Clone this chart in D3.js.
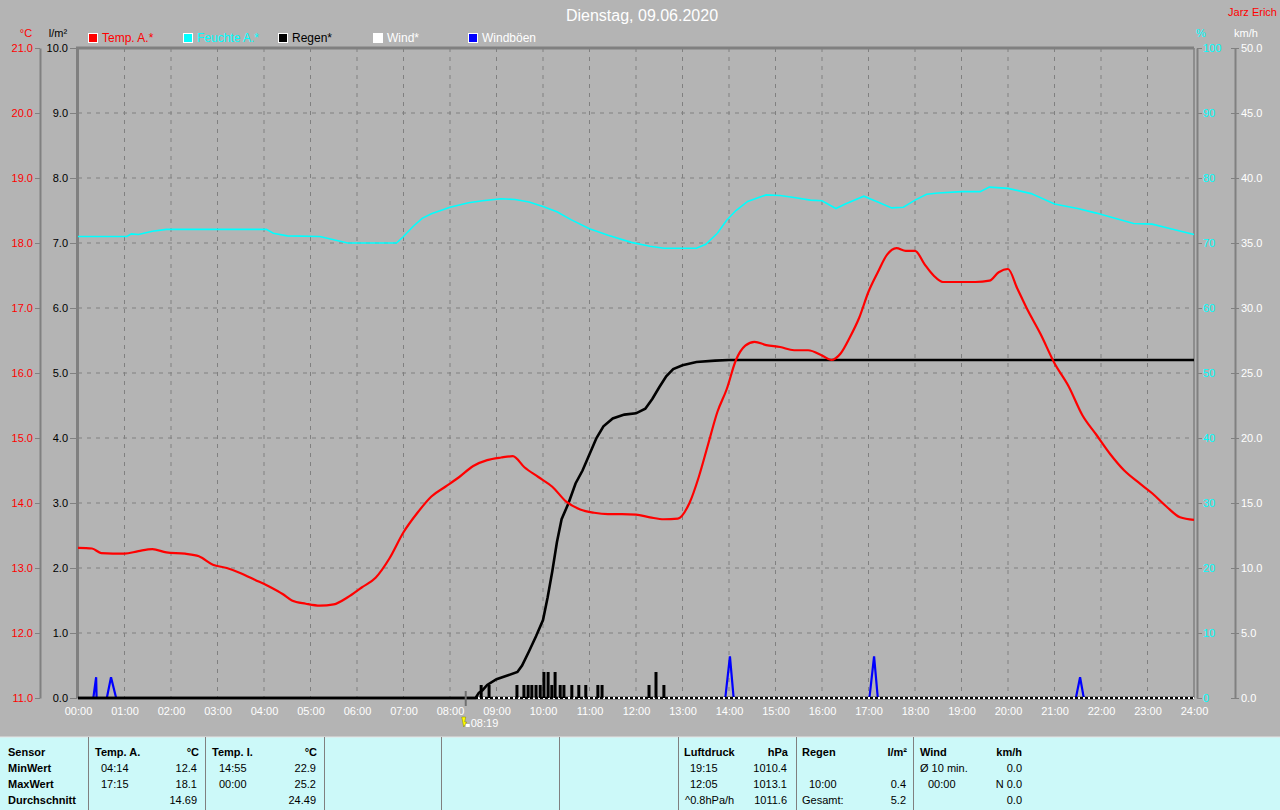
<!DOCTYPE html>
<html><head><meta charset="utf-8">
<script src="https://cdn.jsdelivr.net/npm/d3@7"></script>
<style>
html,body{margin:0;padding:0;background:#b4b4b4;}
svg{display:block;font-family:"Liberation Sans",Arial,sans-serif;}
</style></head>
<body><svg id="chart" width="1280" height="810"></svg>
<script>
// ---------- DATA ----------
const title = "Dienstag, 09.06.2020";
const author = "Jarz Erich";
const hourLabels = ["00:00","01:00","02:00","03:00","04:00","05:00","06:00","07:00","08:00","09:00","10:00","11:00","12:00","13:00","14:00","15:00","16:00","17:00","18:00","19:00","20:00","21:00","22:00","23:00","24:00"];
const tempTicks = [11,12,13,14,15,16,17,18,19,20,21];
const rainTicks = [0,1,2,3,4,5,6,7,8,9,10];
const humTicks = [0,10,20,30,40,50,60,70,80,90,100];
const windTicks = [0,5,10,15,20,25,30,35,40,45,50];

const legendNames = ["Temp. A.*","Feuchte A.*","Regen*","Wind*","Windböen"];

const tempTimes = [0,0.3,0.5,1.0,1.3,1.6,1.9,2.3,2.6,2.9,3.2,3.5,3.8,4.1,4.4,4.6,4.9,5.2,5.5,5.8,6.1,6.4,6.7,7.0,7.3,7.6,7.9,8.2,8.5,8.8,9.1,9.35,9.6,9.9,10.2,10.5,10.8,11.1,11.4,11.7,12.0,12.3,12.6,12.9,13.15,13.35,13.55,13.75,13.95,14.15,14.35,14.55,14.8,15.1,15.4,15.7,16.0,16.2,16.4,16.6,16.8,17.0,17.2,17.4,17.6,17.8,18.0,18.2,18.4,18.6,18.9,19.3,19.6,19.8,20.0,20.2,20.4,20.7,21.0,21.3,21.6,21.9,22.2,22.5,22.8,23.1,23.4,23.7,24.0];
const tempValues = [13.31,13.3,13.23,13.22,13.26,13.29,13.24,13.22,13.18,13.05,13.0,12.92,12.82,12.72,12.6,12.5,12.45,12.42,12.44,12.55,12.7,12.85,13.15,13.55,13.85,14.1,14.25,14.4,14.57,14.66,14.7,14.72,14.55,14.4,14.25,14.02,13.9,13.85,13.83,13.83,13.82,13.78,13.75,13.76,14.0,14.4,14.9,15.4,15.75,16.2,16.42,16.48,16.43,16.4,16.35,16.35,16.27,16.2,16.3,16.55,16.85,17.25,17.55,17.82,17.92,17.88,17.88,17.68,17.5,17.4,17.4,17.4,17.42,17.55,17.6,17.3,17.0,16.6,16.15,15.8,15.35,15.05,14.75,14.5,14.32,14.15,13.95,13.78,13.74];

const humTimes = [0,1.05,1.15,1.3,1.6,1.9,4.05,4.2,4.5,5.2,5.5,5.8,6.85,7.0,7.2,7.4,7.6,8.0,8.4,8.7,9.1,9.4,9.7,10.0,10.3,10.6,11.0,11.4,11.9,12.3,12.6,13.3,13.5,13.75,13.95,14.15,14.4,14.8,15.1,15.4,15.75,16.0,16.3,16.5,16.9,17.2,17.5,17.75,18.0,18.25,18.5,19.0,19.4,19.6,20.0,20.5,21.0,21.5,21.9,22.3,22.7,23.1,23.5,24.0];
const humValues = [71,71,71.4,71.3,71.8,72.1,72.1,71.5,71.1,71.0,70.5,70.0,70.0,71.0,72.5,73.8,74.5,75.5,76.2,76.5,76.8,76.7,76.3,75.6,74.8,73.6,72.2,71.2,70.1,69.5,69.2,69.2,69.8,71.5,73.5,75.0,76.4,77.4,77.3,77.0,76.6,76.5,75.3,76.0,77.2,76.3,75.4,75.5,76.6,77.5,77.7,77.9,77.9,78.6,78.4,77.6,76.0,75.3,74.6,73.8,73.0,72.9,72.2,71.3];

const rainTimes = [0,8.55,8.62,8.7,8.8,9.0,9.25,9.45,9.55,9.7,9.85,10.0,10.1,10.2,10.3,10.4,10.55,10.7,10.85,11.0,11.15,11.3,11.5,11.75,12.0,12.2,12.35,12.5,12.65,12.8,13.0,13.3,13.7,14.0,24];
const rainValues = [0,0,0.08,0.12,0.2,0.29,0.35,0.4,0.5,0.72,0.95,1.2,1.55,1.95,2.4,2.75,3.0,3.3,3.5,3.75,4.0,4.18,4.3,4.36,4.38,4.45,4.6,4.78,4.95,5.06,5.12,5.17,5.19,5.2,5.2];

const rainBarTimes = [8.67,8.84,9.44,9.59,9.68,9.76,9.85,9.94,10.02,10.11,10.19,10.26,10.37,10.45,10.62,10.77,10.92,11.18,11.27,12.28,12.43,12.60];
const rainBarValues = [0.2,0.2,0.2,0.2,0.2,0.2,0.2,0.2,0.4,0.4,0.2,0.4,0.2,0.2,0.2,0.2,0.2,0.2,0.2,0.2,0.4,0.2];

const windTimes = [0,24];
const windValues = [0,0];

const gustTimes = [0,0.33,0.39,0.40,0.62,0.71,0.82,13.92,14.02,14.1,17.02,17.12,17.2,21.46,21.55,21.63,24];
const gustValues = [0,0,1.6,0,0,1.6,0,0,3.2,0,0,3.2,0,0,1.6,0,0];

const markerTime = 8 + 19/60;
const markerLabel = "08:19";

// table
const tableRows = [
  {x:8, anchor:"start", bold:true, lines:["Sensor","MinWert","MaxWert","Durchschnitt"]},
  {x:95, anchor:"start", bold:[true,false,false,false], lines:["Temp. A.","04:14","17:15",""], dx:[0,6,6,0]},
  {x:199, anchor:"end", bold:[true,false,false,false], lines:["°C","12.4","18.1","14.69"], dx:[0,-2,-2,-2]},
  {x:212, anchor:"start", bold:[true,false,false,false], lines:["Temp. I.","14:55","00:00",""], dx:[0,7,7,0]},
  {x:317, anchor:"end", bold:[true,false,false,false], lines:["°C","22.9","25.2","24.49"], dx:[0,-1,-1,-1]},
  {x:684, anchor:"start", bold:[true,false,false,false], lines:["Luftdruck","19:15","12:05","^0.8hPa/h"], dx:[0,6,6,1]},
  {x:788, anchor:"end", bold:[true,false,false,false], lines:["hPa","1010.4","1013.1","1011.6"], dx:[0,-1,-1,-1]},
  {x:802, anchor:"start", bold:[true,false,false,false], lines:["Regen","","10:00","Gesamt:"], dx:[0,0,7,0]},
  {x:907, anchor:"end", bold:[true,false,false,false], lines:["l/m²","","0.4","5.2"], dx:[0,0,-1,-1]},
  {x:920, anchor:"start", bold:[true,false,false,false], lines:["Wind","Ø 10 min.","00:00",""], dx:[0,0,8,0]},
  {x:1022, anchor:"end", bold:[true,false,false,false], lines:["km/h","0.0","N 0.0","0.0"], dx:[0,0,0,0]}
];
const tableSeparators = [88,205,324,441,559,678,796,913];

// ---------- DRAW ----------
const svg = d3.select("#chart");
const L = 78, R = 1194, T = 48, B = 698;
const grid = "#808080";
const x = d3.scaleLinear().domain([0,24]).range([L,R]);
const yRain = d3.scaleLinear().domain([0,10]).range([B,T]);
const yTemp = d3.scaleLinear().domain([11,21]).range([B,T]);
const yHum = d3.scaleLinear().domain([0,100]).range([B,T]);
const yWind = d3.scaleLinear().domain([0,50]).range([B,T]);

svg.append("rect").attr("width",1280).attr("height",810).attr("fill","#b4b4b4");

// title
svg.append("text").attr("x",642).attr("y",21).attr("text-anchor","middle")
  .attr("fill","#fff").attr("font-size",16).text(title);
svg.append("text").attr("x",1277).attr("y",16).attr("text-anchor","end")
  .attr("fill","#ff0000").attr("font-size",11).text(author);

// unit labels
const units = [["°C",26,"#ff0000","middle"],["l/m²",58,"#000","middle"],["%",1201,"#00ffff","middle"],["km/h",1246,"#fff","middle"]];
units.forEach(u=>svg.append("text").attr("x",u[1]).attr("y",37).attr("text-anchor",u[3]).attr("fill",u[2]).attr("font-size",11).text(u[0]));

// legend
const legendColors = ["#ff0000","#00ffff","#000000","#ffffff","#0000ff"];
const legendText = ["#ff0000","#00ffff","#000000","#ffffff","#ffffff"];
legendNames.forEach((n,i)=>{
  const lx = 88 + i*95;
  svg.append("rect").attr("x",lx+0.5).attr("y",33.5).attr("width",9).attr("height",9)
    .attr("fill",legendColors[i]).attr("stroke","#fff").attr("stroke-width",1);
  svg.append("text").attr("x",lx+14).attr("y",42).attr("fill",legendText[i]).attr("font-size",12).text(n);
});

// grid
const gg = svg.append("g");
d3.range(1,24).forEach(h=>gg.append("line").attr("x1",x(h)).attr("x2",x(h)).attr("y1",T).attr("y2",B)
  .attr("stroke",grid).attr("stroke-dasharray","4,5"));
d3.range(1,10).forEach(v=>gg.append("line").attr("x1",L).attr("x2",R).attr("y1",yRain(v)).attr("y2",yRain(v))
  .attr("stroke",grid).attr("stroke-dasharray","4,5"));

// axes
function styleAxis(g, color){
  g.selectAll(".domain").attr("stroke",grid).attr("stroke-width",2);
  g.selectAll(".tick line").attr("stroke",grid).attr("stroke-width",1);
  g.selectAll(".tick text").attr("fill",color).attr("font-size",11).attr("font-family","Liberation Sans, Arial, sans-serif");
}
const aTemp = svg.append("g").attr("transform","translate(40,0)")
  .call(d3.axisLeft(yTemp).tickValues(tempTicks).tickFormat(d3.format(".1f")).tickSize(5).tickSizeOuter(0).tickPadding(2));
styleAxis(aTemp,"#ff0000");
const aRain = svg.append("g").attr("transform","translate(77,0)")
  .call(d3.axisLeft(yRain).tickValues(rainTicks).tickFormat(d3.format(".1f")).tickSize(7).tickSizeOuter(0).tickPadding(2));
styleAxis(aRain,"#000000");
aRain.select(".domain").attr("stroke-width",3);
const aHum = svg.append("g").attr("transform","translate(1197,0)")
  .call(d3.axisRight(yHum).tickValues(humTicks).tickFormat(d3.format("d")).tickSize(5).tickSizeOuter(0).tickPadding(1));
styleAxis(aHum,"#00ffff");
const aWind = svg.append("g").attr("transform","translate(1235,0)")
  .call(d3.axisRight(yWind).tickValues(windTicks).tickFormat(d3.format(".1f")).tickSize(4).tickSizeOuter(0).tickPadding(2));
styleAxis(aWind,"#ffffff");
aWind.selectAll(".tick line").attr("x1",-4);
// plot frame
svg.append("line").attr("x1",L-2).attr("x2",R).attr("y1",T).attr("y2",T).attr("stroke",grid).attr("stroke-width",3);
svg.append("line").attr("x1",1194).attr("x2",1194).attr("y1",T).attr("y2",B).attr("stroke",grid).attr("stroke-width",1.5);

// x axis labels
const aX = svg.append("g").attr("transform",`translate(0,${B})`)
  .call(d3.axisBottom(x).tickValues(d3.range(0,25)).tickFormat(d=>hourLabels[d]).tickSize(0).tickPadding(9));
aX.select(".domain").remove();
aX.selectAll(".tick text").attr("fill","#fff").attr("font-size",11).attr("font-family","Liberation Sans, Arial, sans-serif");

const line = (ys)=>d3.line().x(d=>x(d[0])).y(d=>ys(d[1]));

// gusts (drawn below the baseline so only the spikes show)
svg.append("path").datum(d3.zip(gustTimes,gustValues)).attr("d",line(yWind))
  .attr("fill","none").attr("stroke","#0000ff").attr("stroke-width",2.2).attr("stroke-linejoin","miter");

// baseline (rain interval line) and wind (white dashed)
svg.append("line").attr("x1",L).attr("x2",R).attr("y1",B).attr("y2",B).attr("stroke","#000").attr("stroke-width",2.6);
svg.append("path").datum(d3.zip(windTimes,windValues)).attr("d",line(yWind))
  .attr("fill","none").attr("stroke","#fff").attr("stroke-width",2).attr("stroke-dasharray","2,3");

// rain bars
svg.append("g").selectAll("rect").data(d3.zip(rainBarTimes,rainBarValues)).join("rect")
  .attr("x",d=>x(d[0])-1.5).attr("width",3)
  .attr("y",d=>yRain(d[1])).attr("height",d=>B-yRain(d[1])).attr("fill","#000");

// humidity
svg.append("path").datum(d3.zip(humTimes,humValues)).attr("d",line(yHum))
  .attr("fill","none").attr("stroke","#00ffff").attr("stroke-width",1.6);

// rain cumulative
svg.append("path").datum(d3.zip(rainTimes,rainValues)).attr("d",line(yRain))
  .attr("fill","none").attr("stroke","#000").attr("stroke-width",2.6);

// temperature
svg.append("path").datum(d3.zip(tempTimes,tempValues)).attr("d",d3.line().x(d=>x(d[0])).y(d=>yTemp(d[1])).curve(d3.curveMonotoneX))
  .attr("fill","none").attr("stroke","#ff0000").attr("stroke-width",2.2);

// 08:19 marker
const mx = x(markerTime);
svg.append("line").attr("x1",mx+1).attr("x2",mx+1).attr("y1",691).attr("y2",706).attr("stroke","#707070").attr("stroke-width",2);
svg.append("path").attr("d",`M${mx-3},717 L${mx+1},717 L${mx},722 L${mx+2},722 L${mx-1},727 Z`).attr("fill","#ffff00").attr("stroke","#808000").attr("stroke-width",0.5);
svg.append("rect").attr("x",mx+1).attr("y",724).attr("width",4).attr("height",3).attr("fill","#fff");
svg.append("text").attr("x",mx+6).attr("y",727).attr("fill","#fff").attr("font-size",11).text(markerLabel);

// table
svg.append("rect").attr("x",0).attr("y",737).attr("width",1280).attr("height",73).attr("fill","#ccf9f9");
svg.append("line").attr("x1",0).attr("x2",1280).attr("y1",737).attr("y2",737).attr("stroke","#e6e6e6").attr("stroke-width",1);
tableSeparators.forEach(sx=>svg.append("line").attr("x1",sx+0.5).attr("x2",sx+0.5).attr("y1",737).attr("y2",810).attr("stroke","#808080"));
const rowY = [756,772,788,804];
tableRows.forEach(col=>{
  col.lines.forEach((t,i)=>{
    if(!t) return;
    const b = Array.isArray(col.bold)?col.bold[i]:col.bold;
    const dx = col.dx?col.dx[i]:0;
    svg.append("text").attr("x",col.x+dx).attr("y",rowY[i]).attr("text-anchor",col.anchor)
      .attr("font-size",11).attr("font-weight",b?"bold":"normal").attr("fill","#000").text(t);
  });
});
</script>
</body></html>
